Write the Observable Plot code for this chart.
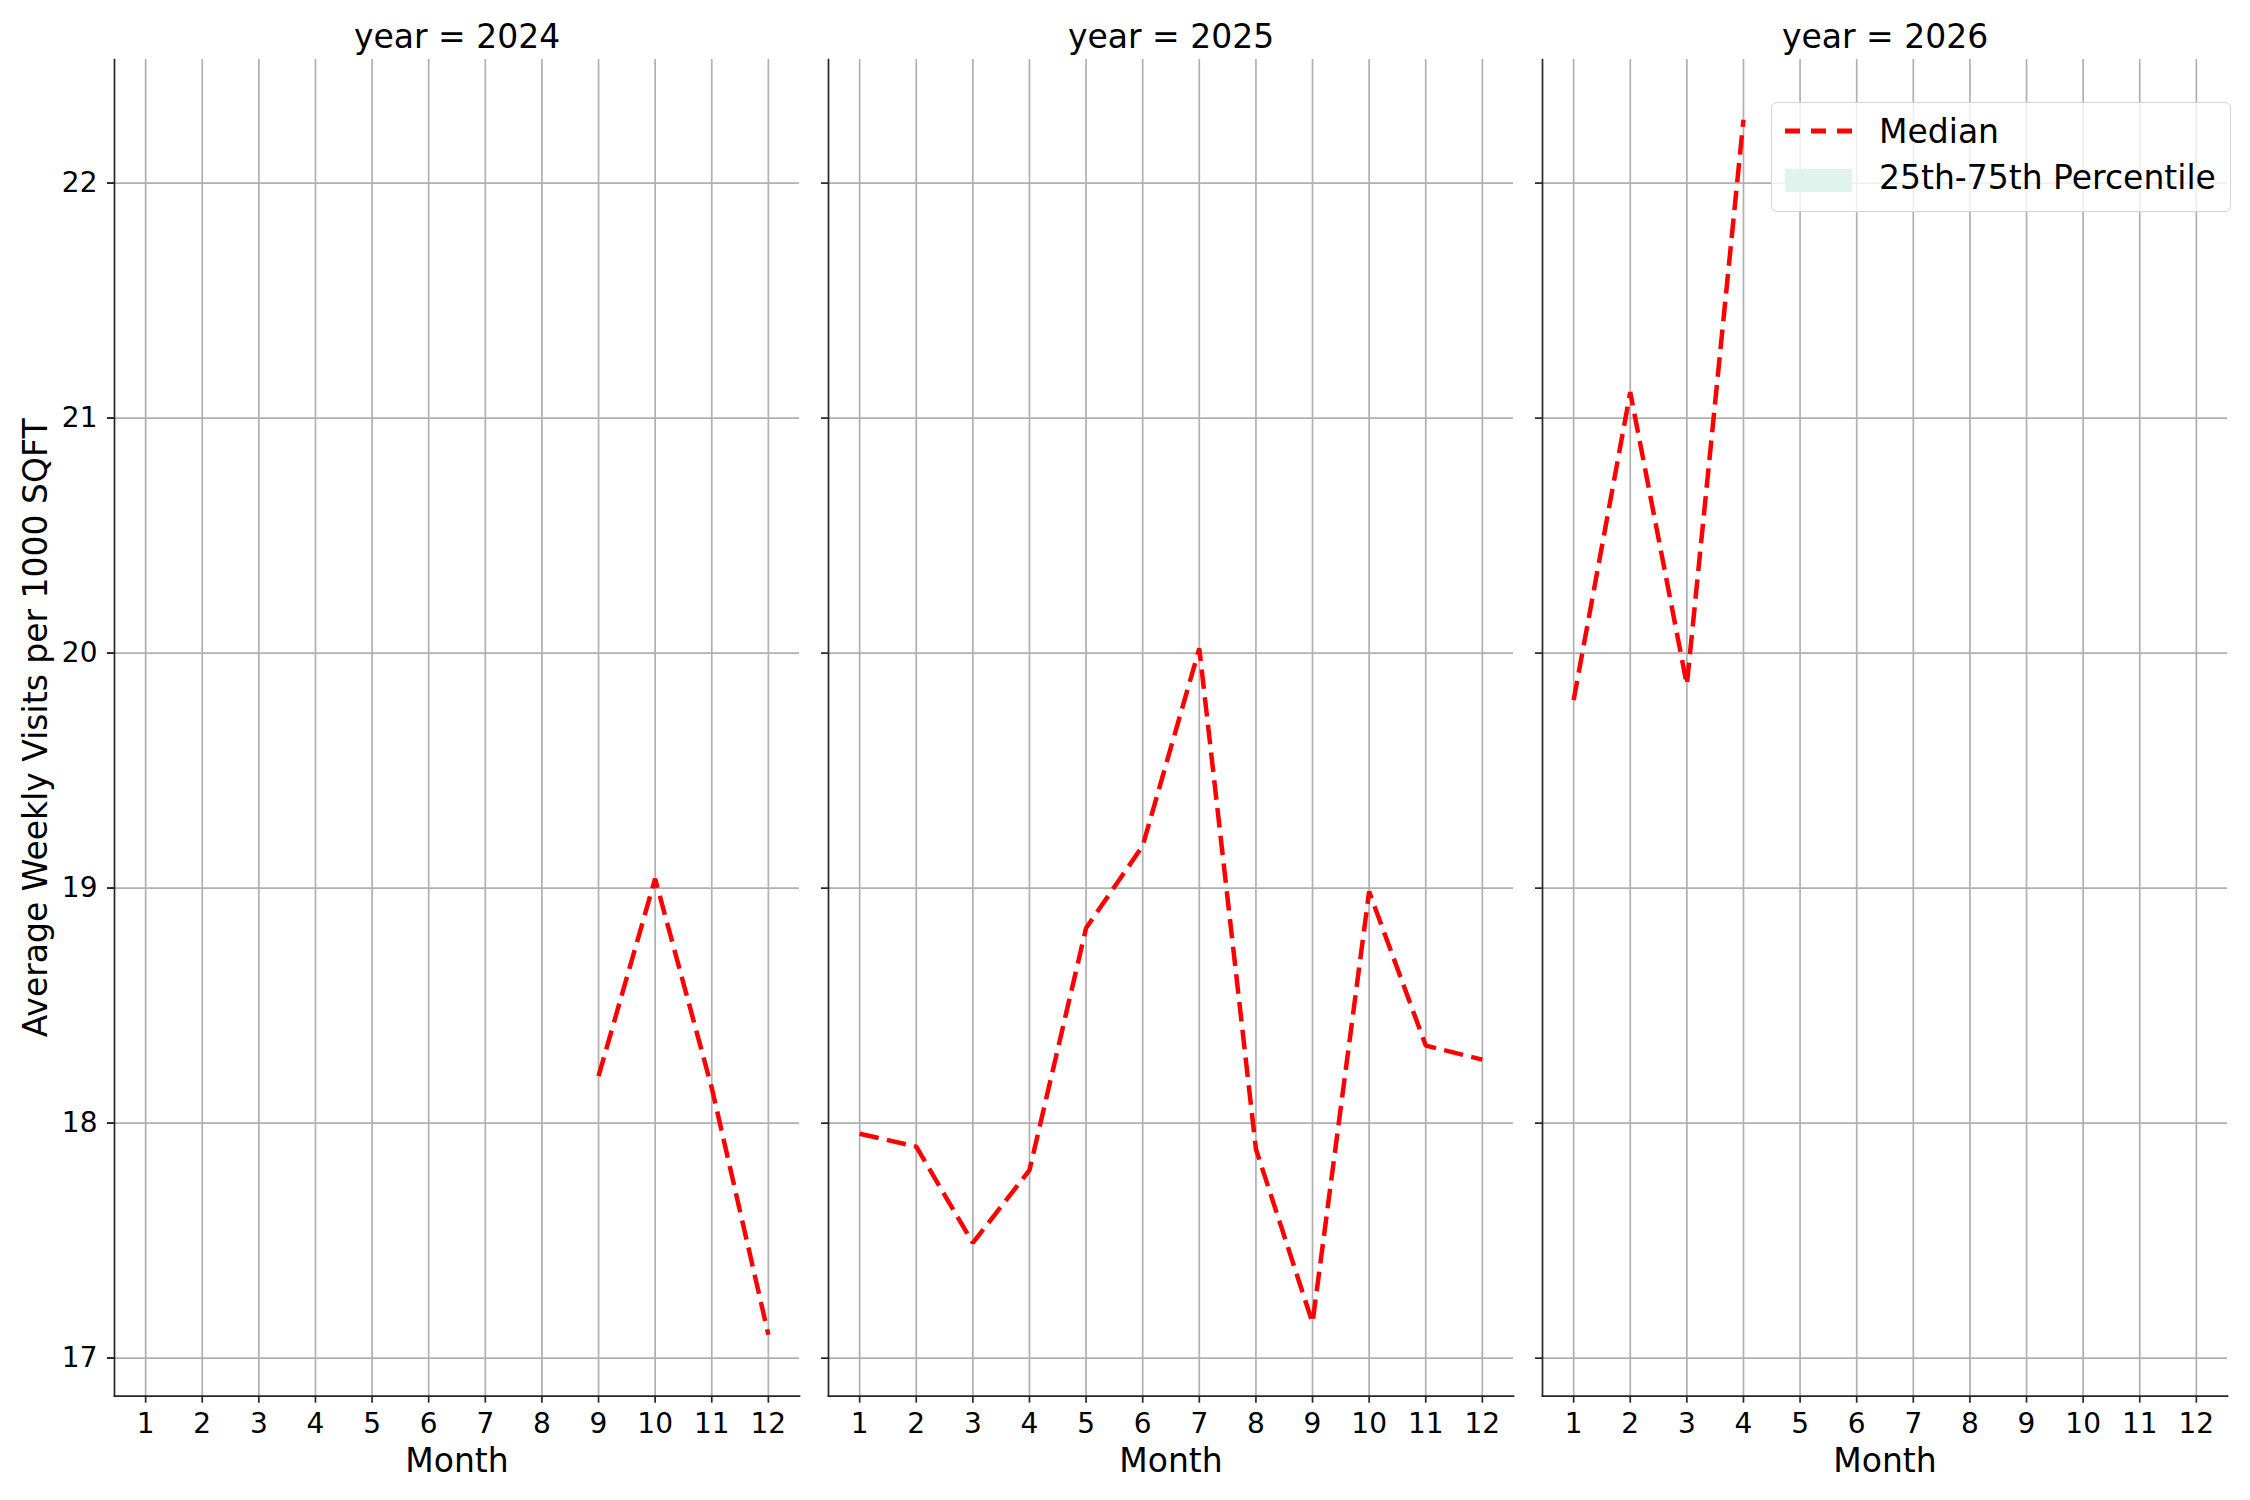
<!DOCTYPE html>
<html>
<head>
<meta charset="utf-8">
<script src="https://cdn.jsdelivr.net/npm/d3@7"></script>
<script src="https://cdn.jsdelivr.net/npm/@observablehq/plot@0.6"></script>
<style>
  html, body { margin: 0; padding: 0; background: #ffffff; }
  #wrap { position: relative; width: 2250px; height: 1500px; font-family: "DejaVu Sans", sans-serif; }
  #legend { position: absolute; left: 1771px; top: 102px; width: 460px; height: 110px; box-sizing: border-box;
            background: rgba(255,255,255,0.8); border: 1.7px solid #d4d4d4; border-radius: 6px; }
  #legend svg { position: absolute; left: 0; top: 0; }
</style>
</head>
<body>
<div id="wrap"></div>
<script>
// ---- data ----
const years = [2024, 2025, 2026];
const monthTicks = [1, 2, 3, 4, 5, 6, 7, 8, 9, 10, 11, 12];
const valueTicks = [17, 18, 19, 20, 21, 22];

const months2024 = [9, 10, 11, 12];
const median2024 = [18.20, 19.04, 18.15, 17.10];

const months2025 = [1, 2, 3, 4, 5, 6, 7, 8, 9, 10, 11, 12];
const median2025 = [17.955, 17.90, 17.49, 17.80, 18.83, 19.18, 20.02, 17.89, 17.15, 18.985, 18.33, 18.27];

const months2026 = [1, 2, 3, 4];
const median2026 = [19.80, 21.11, 19.865, 22.27];

const xLabel = "Month";
const yLabel = "Average Weekly Visits per 1000 SQFT";
const legendLabels = ["Median", "25th-75th Percentile"];

// ---- table ----
const rows = [];
[[2024, months2024, median2024], [2025, months2025, median2025], [2026, months2026, median2026]]
  .forEach(([yr, ms, vs]) => ms.forEach((m, i) => rows.push({year: yr, month: m, value: vs[i]})));

const ink = "#262626";
const gridColor = "#b0b0b0";

const chart = Plot.plot({
  width: 2250,
  height: 1500,
  marginLeft: 113,
  marginRight: 22,
  marginTop: 59,
  marginBottom: 104.3,
  style: {fontFamily: "DejaVu Sans, sans-serif", fontSize: "28px", color: ink, background: "#ffffff"},
  fx: {domain: years, paddingInner: 0.0402, paddingOuter: 0, axis: null, label: null},
  x: {domain: [0.45, 12.55]},
  y: {domain: [16.838, 22.526]},
  marks: [
    Plot.gridX(monthTicks, {stroke: gridColor, strokeOpacity: 1, strokeWidth: 1.7}),
    Plot.gridY(valueTicks, {stroke: gridColor, strokeOpacity: 1, strokeWidth: 1.7}),
    Plot.frame({anchor: "left", stroke: ink, strokeWidth: 1.7}),
    Plot.frame({anchor: "bottom", stroke: ink, strokeWidth: 1.7}),
    Plot.axisX(monthTicks, {tickSize: 7, tickPadding: 10, fontSize: 28, label: null, tickFormat: d3.format("d"), stroke: ink, strokeWidth: 1.7, fill: "#000"}),
    Plot.axisY(valueTicks, {tickSize: 7, tickPadding: 10, fontSize: 28, label: null, tickFormat: d3.format("d"), stroke: ink, strokeWidth: 1.7, fill: "#000"}),
    Plot.axisY(valueTicks, {tickSize: 7, tickFormat: () => "", label: null, stroke: ink, strokeWidth: 1.7, facetAnchor: null}),
    Plot.line(rows, {x: "month", y: "value", fx: "year", stroke: "#ff0000", strokeWidth: 4.5,
                     strokeDasharray: "19.5,8.4", strokeLinecap: "butt", strokeLinejoin: "miter"}),
    Plot.text(years, {fx: d => d, text: d => `year = ${d}`, frameAnchor: "top", lineAnchor: "bottom", dy: -12, fontSize: 33, fill: "#000"}),
    Plot.text([xLabel], {text: d => d, frameAnchor: "bottom", dy: 76, fontSize: 33, fill: "#000"}),
    Plot.text([yLabel], {text: d => d, frameAnchor: "left", textAnchor: "middle", lineAnchor: "middle", rotate: -90, dx: -78, fontSize: 33, fill: "#000", facetAnchor: "left"})
  ]
});

const wrap = document.getElementById("wrap");
wrap.appendChild(chart);

// ---- legend ----
const legend = document.createElement("div");
legend.id = "legend";
const ns = "http://www.w3.org/2000/svg";
const lsvg = document.createElementNS(ns, "svg");
lsvg.setAttribute("width", "460");
lsvg.setAttribute("height", "110");
const line = document.createElementNS(ns, "line");
line.setAttribute("x1", "13"); line.setAttribute("x2", "80");
line.setAttribute("y1", "28"); line.setAttribute("y2", "28");
line.setAttribute("stroke", "#ff0000"); line.setAttribute("stroke-width", "5");
line.setAttribute("stroke-dasharray", "15,11");
lsvg.appendChild(line);
const patch = document.createElementNS(ns, "rect");
patch.setAttribute("x", "13"); patch.setAttribute("y", "66");
patch.setAttribute("width", "67"); patch.setAttribute("height", "23");
patch.setAttribute("fill", "#e0f3ed");
lsvg.appendChild(patch);
legendLabels.forEach((t, i) => {
  const tx = document.createElementNS(ns, "text");
  tx.setAttribute("x", "107");
  tx.setAttribute("y", String(i === 0 ? 40 : 86));
  tx.setAttribute("font-size", "33");
  tx.setAttribute("font-family", "DejaVu Sans, sans-serif");
  tx.setAttribute("fill", "#000");
  tx.textContent = t;
  lsvg.appendChild(tx);
});
legend.appendChild(lsvg);
wrap.appendChild(legend);
</script>
</body>
</html>
